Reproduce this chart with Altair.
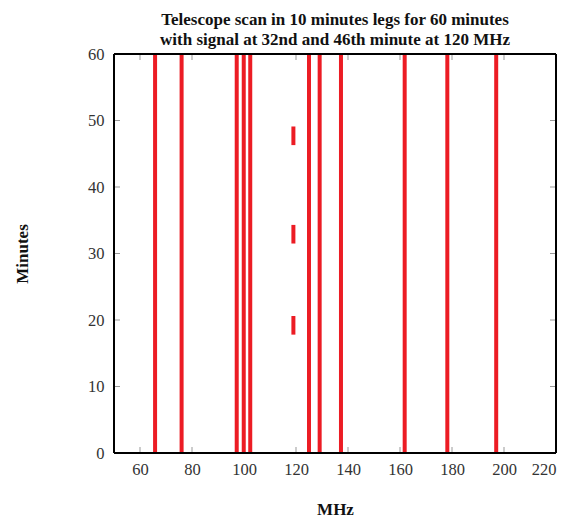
import altair as alt
import pandas as pd

# Full-length scan lines (MHz), spanning 0..60 minutes
line_mhz = [65.8, 76.0, 97.2, 99.9, 102.4, 125.0, 129.1, 137.3, 161.8, 178.2, 197.0]
# Short signal segments at ~119 MHz
seg_mhz = [119.0, 119.0, 119.0]
seg_start = [17.8, 31.5, 46.3]
seg_end = [20.6, 34.3, 49.1]

x_ticks = [60, 80, 100, 120, 140, 160, 180, 200, 220]
y_ticks = [0, 10, 20, 30, 40, 50, 60]

W, H = 442, 399

rows = [{"x": m, "y": 0, "y2": 60} for m in line_mhz]
rows += [{"x": m, "y": a, "y2": b} for m, a, b in zip(seg_mhz, seg_start, seg_end)]
df = pd.DataFrame(rows)

xscale = alt.Scale(domain=[50, 220], nice=False, zero=False)
yscale = alt.Scale(domain=[0, 60], nice=False, zero=False)

FONT = "Liberation Serif"
FRAME = "black"

xaxis = alt.Axis(values=x_ticks, title="MHz", grid=False, ticks=False, domain=False,
                 labelFont=FONT, labelFontSize=16.5, labelColor="#333", labelPadding=8,
                 titleFont=FONT, titleFontSize=17, titleFontWeight="bold", titleColor="#111",
                 titlePadding=24)
yaxis = alt.Axis(values=y_ticks, title="Minutes", grid=False, ticks=False, domain=False,
                 labelFont=FONT, labelFontSize=16.5, labelColor="#333", labelPadding=10,
                 titleFont=FONT, titleFontSize=17, titleFontWeight="bold", titleColor="#111",
                 titlePadding=56)

lines = alt.Chart(df).mark_rule(color="#ec1c24", strokeWidth=4).encode(
    x=alt.X("x:Q", scale=xscale, axis=xaxis),
    y=alt.Y("y:Q", scale=yscale, axis=yaxis),
    y2="y2:Q",
)

xt = pd.DataFrame({"t": x_ticks[:-1]})
yt = pd.DataFrame({"t": y_ticks[1:-1]})
tick_color = "#999999"

bottom_ticks = alt.Chart(xt).mark_rule(color=tick_color, strokeWidth=1).encode(
    x=alt.X("t:Q", scale=xscale), y=alt.value(H), y2=alt.value(H - 6))
top_ticks = alt.Chart(xt).mark_rule(color=tick_color, strokeWidth=1).encode(
    x=alt.X("t:Q", scale=xscale), y=alt.value(0), y2=alt.value(6))
left_ticks = alt.Chart(yt).mark_rule(color=tick_color, strokeWidth=1).encode(
    y=alt.Y("t:Q", scale=yscale), x=alt.value(0), x2=alt.value(6))
right_ticks = alt.Chart(yt).mark_rule(color=tick_color, strokeWidth=1).encode(
    y=alt.Y("t:Q", scale=yscale), x=alt.value(W), x2=alt.value(W - 6))

# frame edges drawn in data coordinates of the scale domain
edge_h = pd.DataFrame({"x": [50, 50], "x2": [220, 220], "y": [0, 60]})
edge_v = pd.DataFrame({"x": [50, 220], "y": [0, 0], "y2": [60, 60]})
h_edges = alt.Chart(edge_h).mark_rule(color=FRAME, strokeWidth=2).encode(
    x=alt.X("x:Q", scale=xscale), x2="x2:Q", y=alt.Y("y:Q", scale=yscale))
v_edges = alt.Chart(edge_v).mark_rule(color=FRAME, strokeWidth=2).encode(
    x=alt.X("x:Q", scale=xscale), y=alt.Y("y:Q", scale=yscale), y2="y2:Q")

chart = alt.layer(bottom_ticks, top_ticks, left_ticks, right_ticks, lines,
                  h_edges, v_edges).properties(
    width=W, height=H,
    title=alt.TitleParams(
        ["Telescope scan in 10 minutes legs for 60 minutes",
         "with signal at 32nd and 46th minute at 120 MHz"],
        font=FONT, fontSize=17, fontWeight="bold", color="#111", anchor="middle",
        offset=-3, lineHeight=20),
    autosize=alt.AutoSizeParams(type="none"),
    padding={"left": 114, "top": 54, "right": 13, "bottom": 66},
).configure(background="white").configure_view(strokeWidth=0)

chart.save("out.html", embed_options={"renderer": "svg", "actions": False})
